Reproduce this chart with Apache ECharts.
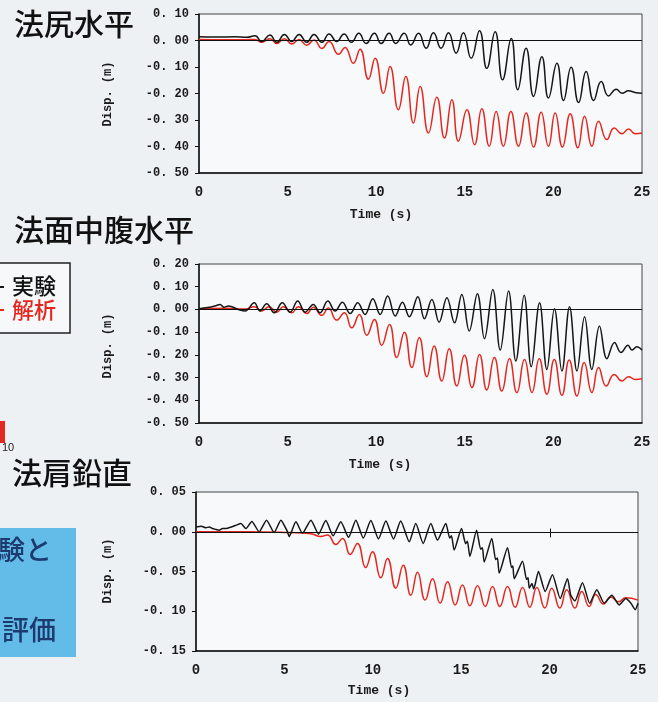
<!DOCTYPE html>
<html>
<head>
<meta charset="utf-8">
<script src="https://cdn.jsdelivr.net/npm/echarts@6/dist/echarts.min.js"></script>
<style>
  html, body { margin: 0; padding: 0; background: #eef1f4; }
  #main { width: 658px; height: 702px; }
</style>
</head>
<body>
<div id="main"></div>
<script>
// time axis ticks (s)
var timeTicks = [0, 5, 10, 15, 20, 25];

// 法尻水平 : [time (s), disp (m)]
var toeExp = [[0, 0.014], [1.0, 0.013], [2.0, 0.014], [2.7, 0.012], [3.16, 0.018], [3.54, -0.004], [4.0, 0.021], [4.39, -0.007], [4.82, 0.023], [5.23, -0.004], [5.65, 0.023], [6.08, -0.007], [6.49, 0.023], [6.93, -0.007], [7.34, 0.025], [7.77, -0.004], [8.19, 0.025], [8.6, -0.007], [9.02, 0.027], [9.43, -0.011], [9.9, 0.027], [10.28, -0.011], [10.73, 0.027], [11.1, -0.011], [11.58, 0.027], [11.95, -0.017], [12.39, 0.027], [12.82, -0.029], [13.23, 0.029], [13.66, -0.029], [14.08, 0.029], [14.51, -0.048], [14.92, 0.029], [15.36, -0.067], [15.83, 0.037], [16.24, -0.105], [16.71, 0.033], [17.13, -0.148], [17.62, 0.008], [17.99, -0.186], [18.46, -0.029], [18.88, -0.211], [19.35, -0.061], [19.72, -0.217], [20.2, -0.086], [20.57, -0.226], [21.0, -0.101], [21.42, -0.234], [21.85, -0.117], [22.27, -0.226], [22.7, -0.155], [23.11, -0.209], [23.55, -0.184], [23.87, -0.199], [24.24, -0.19], [24.6, -0.196], [25, -0.199]];
var toeAna = [[0, 0.004], [1.5, 0.003], [2.6, 0.003], [3.16, 0.004], [3.54, -0.007], [4.0, 0.007], [4.39, -0.011], [4.82, 0.007], [5.23, -0.013], [5.65, 0.004], [6.08, -0.018], [6.49, 0.002], [6.93, -0.03], [7.34, -0.004], [7.87, -0.052], [8.24, -0.026], [8.71, -0.086], [9.09, -0.033], [9.56, -0.146], [9.94, -0.067], [10.41, -0.199], [10.78, -0.098], [11.25, -0.261], [11.67, -0.136], [12.1, -0.311], [12.48, -0.174], [12.95, -0.349], [13.42, -0.214], [13.85, -0.368], [14.27, -0.224], [14.64, -0.38], [15.12, -0.261], [15.55, -0.393], [15.96, -0.258], [16.38, -0.399], [16.77, -0.268], [17.18, -0.399], [17.6, -0.268], [18.03, -0.399], [18.46, -0.274], [18.88, -0.402], [19.31, -0.271], [19.72, -0.399], [20.1, -0.274], [20.51, -0.402], [20.95, -0.276], [21.38, -0.405], [21.76, -0.286], [22.17, -0.399], [22.55, -0.305], [23.02, -0.374], [23.43, -0.33], [23.87, -0.352], [24.24, -0.334], [24.62, -0.352], [25, -0.349]];

// 法面中腹水平
var midExp = [[0, 0.003], [0.5, 0.008], [0.9, 0.015], [1.19, 0.022], [1.4, 0.01], [1.66, 0.015], [2.22, 0], [2.6, -0.007], [3.12, 0.029], [3.44, -0.007], [3.82, 0.025], [4.25, -0.015], [4.7, 0.029], [5.14, -0.012], [5.57, 0.037], [5.99, -0.012], [6.45, 0.022], [6.83, -0.015], [7.27, 0.037], [7.68, -0.007], [8.09, 0.032], [8.53, -0.018], [8.96, 0.029], [9.37, -0.022], [9.81, 0.047], [10.22, -0.022], [10.65, 0.059], [11.07, -0.029], [11.48, 0.032], [11.87, -0.032], [12.35, 0.056], [12.72, -0.041], [13.14, 0.044], [13.55, -0.056], [13.99, 0.051], [14.42, -0.059], [14.83, 0.066], [15.25, -0.095], [15.71, 0.069], [16.11, -0.129], [16.58, 0.088], [17.0, -0.179], [17.47, 0.081], [17.88, -0.227], [18.35, 0.062], [18.75, -0.252], [19.22, 0.029], [19.63, -0.264], [20.06, 0.003], [20.48, -0.271], [20.91, 0.012], [21.33, -0.271], [21.76, -0.032], [22.17, -0.264], [22.6, -0.073], [23.02, -0.217], [23.45, -0.146], [23.81, -0.19], [24.21, -0.158], [24.43, -0.179], [24.71, -0.164], [25, -0.179]];
var midAna = [[0, 0.003], [1.5, 0.005], [2.6, 0.002], [3.12, 0.012], [3.54, -0.007], [3.95, 0.012], [4.39, -0.012], [4.76, 0.012], [5.23, -0.015], [5.61, 0.012], [6.08, -0.018], [6.45, 0.01], [6.93, -0.026], [7.3, 0.006], [7.77, -0.047], [8.2, -0.015], [8.62, -0.081], [9.05, -0.022], [9.47, -0.114], [9.9, -0.044], [10.31, -0.158], [10.75, -0.066], [11.16, -0.212], [11.59, -0.1], [12.01, -0.256], [12.43, -0.124], [12.86, -0.296], [13.27, -0.161], [13.7, -0.315], [14.12, -0.173], [14.55, -0.337], [14.98, -0.202], [15.4, -0.344], [15.83, -0.198], [16.24, -0.355], [16.67, -0.212], [17.09, -0.359], [17.52, -0.217], [17.94, -0.366], [18.37, -0.22], [18.79, -0.366], [19.2, -0.217], [19.63, -0.373], [20.05, -0.22], [20.48, -0.378], [20.89, -0.223], [21.33, -0.381], [21.74, -0.234], [22.17, -0.366], [22.55, -0.256], [22.98, -0.337], [23.43, -0.286], [23.87, -0.315], [24.24, -0.296], [24.62, -0.308], [25, -0.305]];

// 法肩鉛直
var crestExp = [[0, 0.006], [0.3, 0.007], [0.56, 0.005], [0.75, 0.006], [0.93, 0.004], [1.1, 0.003], [1.31, 0.002], [1.5, 0.004], [1.69, 0.004], [2.0, 0.006], [2.25, 0.008], [2.54, 0.0104], [2.82, 0.004], [3.16, 0.013], [3.57, 0], [3.99, 0.0146], [4.42, -0.001], [4.8, 0.0146], [5.15, 0.001], [5.27, -0.006], [5.4, 0.0], [5.65, 0.0125], [6.02, -0.002], [6.5, 0.0146], [6.93, -0.003], [7.34, 0.014], [7.76, -0.005], [8.19, 0.0125], [8.63, -0.007], [9.04, 0.0146], [9.46, -0.008], [9.89, 0.014], [10.32, -0.009], [10.74, 0.0135], [11.17, -0.009], [11.58, 0.0135], [12.06, -0.0126], [12.43, 0.0104], [12.85, -0.0147], [13.28, 0.0104], [13.66, -0.0105], [14.13, 0.0104], [14.35, -0.008], [14.45, -0.005], [14.6, -0.023], [15.02, 0.004], [15.25, -0.015], [15.35, -0.012], [15.49, -0.031], [15.87, 0.002], [16.1, -0.022], [16.2, -0.02], [16.3, -0.038], [16.73, -0.0084], [16.95, -0.035], [17.05, -0.033], [17.15, -0.052], [17.62, -0.02], [17.85, -0.045], [17.92, -0.043], [18.0, -0.059], [18.47, -0.037], [18.7, -0.06], [18.78, -0.058], [18.85, -0.071], [19.0, -0.065], [19.1, -0.072], [19.37, -0.05], [19.75, -0.075], [20.16, -0.054], [20.6, -0.084], [21.01, -0.059], [21.2, -0.08], [21.43, -0.087], [21.86, -0.064], [22.27, -0.09], [22.67, -0.073], [23.09, -0.09], [23.3, -0.085], [23.52, -0.08], [23.94, -0.092], [24.31, -0.084], [24.6, -0.09], [24.84, -0.098], [25, -0.09]];
var crestAna = [[0, 0], [3, 0], [5.27, -0.001], [6.5, -0.0025], [7.06, -0.006], [7.44, -0.004], [7.91, -0.016], [8.29, -0.0084], [8.72, -0.0285], [9.13, -0.0147], [9.6, -0.045], [9.98, -0.025], [10.45, -0.058], [10.83, -0.0335], [11.3, -0.071], [11.72, -0.042], [12.15, -0.08], [12.53, -0.051], [12.96, -0.086], [13.38, -0.059], [13.81, -0.09], [14.23, -0.063], [14.66, -0.092], [15.07, -0.067], [15.49, -0.093], [15.92, -0.068], [16.36, -0.094], [16.77, -0.069], [17.18, -0.094], [17.62, -0.069], [18.05, -0.095], [18.47, -0.07], [18.88, -0.095], [19.28, -0.07], [19.73, -0.096], [20.12, -0.071], [20.58, -0.096], [20.97, -0.073], [21.43, -0.096], [21.82, -0.075], [22.24, -0.094], [22.61, -0.079], [23.05, -0.091], [23.46, -0.082], [23.9, -0.088], [24.31, -0.083], [25, -0.086]];
// small vertical mark on the zero line of the crest plot
var crestMark = [[20.05, 0.004], [20.05, -0.007]];

var titles = ['法尻水平', '法面中腹水平', '法肩鉛直'];
var legendNames = ['実験', '解析'];

var BLACK = '#161616', RED = '#e5261e';
var mono = '"Liberation Mono", "DejaVu Sans Mono", monospace';
var jp = '"Noto Sans CJK JP", sans-serif';

var chart = echarts.init(document.getElementById('main'));

function fmt(v) {
    return v.toFixed(2).replace('.', '. ');
}

function grid(left, top, right) {
    return {
        left: left, top: top, right: right, height: 159,
        show: true, backgroundColor: '#f8f9fa',
        borderColor: '#444', borderWidth: 1
    };
}

function xAx(i) {
    return {
        type: 'value', gridIndex: i, min: 0, max: 25, interval: 5,
        axisLine: { show: true, onZero: false, lineStyle: { color: '#111', width: 1.5 } },
        axisTick: { show: false },
        splitLine: { show: false },
        axisLabel: { margin: 12, fontFamily: mono, fontWeight: 'bold', fontSize: 14, color: '#1a1a1a' }
    };
}

function yAx(i, min, max, step) {
    return {
        type: 'value', gridIndex: i, min: min, max: max, interval: step,
        axisLine: { show: true, lineStyle: { color: '#111', width: 1.5 } },
        axisTick: { show: true, length: 4, lineStyle: { color: '#111' } },
        splitLine: { show: false },
        axisLabel: { margin: 10, fontFamily: mono, fontWeight: 'bold', fontSize: 12, color: '#1a1a1a', formatter: fmt }
    };
}

function zeroLine(extra) {
    var d = [{ yAxis: 0 }];
    if (extra) d.push([{ coord: extra[0] }, { coord: extra[1] }]);
    return {
        silent: true, symbol: 'none', animation: false,
        label: { show: false },
        lineStyle: { color: '#111', width: 1, type: 'solid' },
        data: d
    };
}

function line(name, i, data, color, smooth, mark) {
    var s = {
        name: name, type: 'line', xAxisIndex: i, yAxisIndex: i,
        data: data, showSymbol: false, smooth: smooth,
        lineStyle: { color: color, width: 1.5 },
        itemStyle: { color: color },
        animation: false
    };
    if (mark) s.markLine = mark;
    return s;
}

function txt(x, y, text, size, color, opts) {
    opts = opts || {};
    var o = {
        type: 'text', x: x, y: y, z: 10,
        style: {
            text: text, fill: color || '#111',
            font: (opts.weight || '500') + ' ' + size + 'px ' + (opts.font || jp),
            align: opts.align || 'left', verticalAlign: 'middle'
        }
    };
    if (opts.rotation) o.rotation = opts.rotation;
    return o;
}

var axName = { font: mono, align: 'center', weight: 'bold' };
var axNameV = { font: mono, align: 'center', weight: 'bold', rotation: Math.PI / 2 };

var graphics = [
    txt(14, 24, titles[0], 30),
    txt(14, 230, titles[1], 30),
    txt(12, 473, titles[2], 30),
    // legend box (cut at the page edge)
    { type: 'rect', shape: { x: -10, y: 263, width: 80, height: 70 }, style: { fill: '#f7f8f9', stroke: '#222', lineWidth: 1.5 } },
    { type: 'line', shape: { x1: 0, y1: 287, x2: 4, y2: 287 }, style: { stroke: BLACK, lineWidth: 2 } },
    { type: 'line', shape: { x1: 0, y1: 310, x2: 4, y2: 310 }, style: { stroke: RED, lineWidth: 2 } },
    txt(12, 286, legendNames[0], 22, '#111'),
    txt(12, 310, legendNames[1], 22, RED),
    // neighbouring page content
    { type: 'rect', shape: { x: 0, y: 421, width: 5, height: 22 }, style: { fill: '#e32a22' } },
    txt(2, 448, '10', 11, '#222', { font: '"Liberation Sans", sans-serif', weight: 'normal' }),
    { type: 'rect', shape: { x: 0, y: 528, width: 76, height: 129 }, style: { fill: '#63bbe8' } },
    txt(52, 550, '験と', 27, '#1c3a6e', { align: 'right' }),
    txt(56, 630, '評価', 27, '#1c3a6e', { align: 'right' }),
    // axis names
    txt(381, 215, 'Time (s)', 13, '#1a1a1a', axName),
    txt(380, 465, 'Time (s)', 13, '#1a1a1a', axName),
    txt(379, 691, 'Time (s)', 13, '#1a1a1a', axName),
    txt(108, 94, 'Disp. (m)', 12, '#1a1a1a', axNameV),
    txt(108, 346, 'Disp. (m)', 12, '#1a1a1a', axNameV),
    txt(108, 571, 'Disp. (m)', 12, '#1a1a1a', axNameV)
];

chart.setOption({
    backgroundColor: '#eef1f4',
    animation: false,
    grid: [grid(199, 14, 16), grid(199, 264, 16), grid(196, 492, 20)],
    xAxis: [xAx(0), xAx(1), xAx(2)],
    yAxis: [yAx(0, -0.5, 0.1, 0.1), yAx(1, -0.5, 0.2, 0.1), yAx(2, -0.15, 0.05, 0.05)],
    series: [
        line(legendNames[1], 0, toeAna, RED, 0.5, zeroLine()),
        line(legendNames[0], 0, toeExp, BLACK, 0.5),
        line(legendNames[1], 1, midAna, RED, 0.5, zeroLine()),
        line(legendNames[0], 1, midExp, BLACK, 0.4),
        line(legendNames[1], 2, crestAna, RED, 0.5, zeroLine(crestMark)),
        line(legendNames[0], 2, crestExp, BLACK, 0.2)
    ],
    graphic: graphics
});
</script>
</body>
</html>
